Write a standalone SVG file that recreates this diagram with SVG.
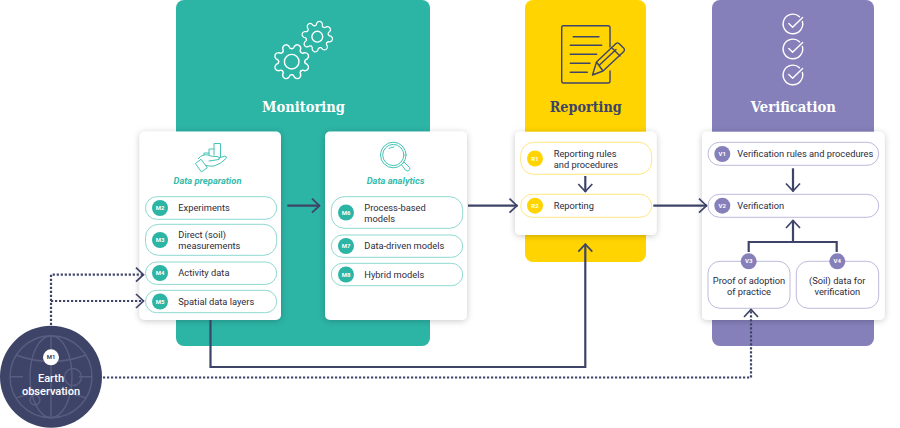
<svg xmlns="http://www.w3.org/2000/svg" xmlns:xlink="http://www.w3.org/1999/xlink" width="900" height="428" viewBox="0 0 900 428">
<style>
text{font-family:Roboto,"Liberation Sans",sans-serif;font-size:9.3px;fill:#2c2c3c}
.t{font-family:"DejaVu Serif","Liberation Serif",serif;font-size:14.6px;font-weight:700;text-anchor:middle}
.sub{font-size:9.4px;font-weight:700;font-style:italic;fill:#36bbab;text-anchor:middle}
.n{font-size:6px;font-weight:700;fill:#fff;text-anchor:middle}
.c{text-anchor:middle}
.card{fill:#fff;filter:url(#sh)}
.pt{fill:#fff;stroke:#8ed9d0;stroke-width:1}
.py{fill:#fff;stroke:#ffe680;stroke-width:1}
.pv{fill:#fff;stroke:#bdb9dc;stroke-width:1}
.dt{fill:#2cb4a5}.dy{fill:#ffd400}.dv{fill:#8580ba}
.w{fill:none;stroke:#fff;stroke-width:1.4;stroke-linecap:round;stroke-linejoin:round}
.k{fill:none;stroke:#3e4468;stroke-width:1.4;stroke-linecap:round;stroke-linejoin:round}
.i{fill:none;stroke:#45c3b4;stroke-width:1;stroke-linecap:round;stroke-linejoin:round}
.g{fill:none;stroke:#585e80;stroke-width:1.4}
.l{fill:none;stroke:#3e4468;stroke-width:2.2}
.a{marker-end:url(#ar)}
.d{stroke-dasharray:2.2 1.8}
</style>
<defs>
<filter id="sh" x="-15%" y="-15%" width="130%" height="130%"><feDropShadow dx="0" dy="1" stdDeviation="3" flood-color="#000" flood-opacity="0.22"/></filter>
<marker id="ar" markerUnits="userSpaceOnUse" markerWidth="16" markerHeight="18" refX="12" refY="9" orient="auto"><path d="M4 2L11.500 9L4 16" fill="none" stroke="#3e4468" stroke-width="1.7"/></marker>
<path id="tooth" d="M12 -5L13.2 -3.6Q14.4 -3.4 15.4 -3.4Q18 -2.4 18 0Q18 2.4 15.4 3.4Q14.4 3.4 13.2 3.6L12 5"/>
<g id="gear">
<use xlink:href="#tooth"/><use xlink:href="#tooth" transform="rotate(45)"/><use xlink:href="#tooth" transform="rotate(90)"/><use xlink:href="#tooth" transform="rotate(135)"/><use xlink:href="#tooth" transform="rotate(180)"/><use xlink:href="#tooth" transform="rotate(225)"/><use xlink:href="#tooth" transform="rotate(270)"/><use xlink:href="#tooth" transform="rotate(315)"/>
</g>
<path id="chk" d="M6.500 -7.300A9.800 9.800 0 1 0 9.400 -2.500M-4.200 -0.600L-0.400 3.200L9.600 -6.600"/>
</defs>

<g id="panel-monitoring">
<rect x="176" y="0" width="254" height="346" rx="8" fill="#2cb4a5"/>
<g class="w"><use xlink:href="#gear" transform="translate(291.7 61.7) rotate(22.5)"/><circle cx="291.7" cy="61.7" r="7.3"/></g>
<g class="w"><use xlink:href="#gear" transform="translate(317.3 36.7) rotate(10) scale(.86)"/><circle cx="317.3" cy="36.7" r="5.4"/></g>
<text class="t" x="303.500" y="111.500" textLength="83" lengthAdjust="spacingAndGlyphs" style="fill:#fff">Monitoring</text>
</g>
<g id="panel-reporting">
<rect x="525" y="0" width="121" height="262" rx="8" fill="#ffd400"/>
<g class="k">
<path d="M610 47V27.500Q610 25.700 608 25.700H563.500Q561.700 25.700 561.700 27.500V81Q561.700 83 563.500 83H608Q610 83 610 81V71"/>
<path d="M573.300 36.700H599M570.300 45.300H601.700M570.300 54.300H596.700M570.300 63.300H590M570.300 72.300H587.300"/>
<path d="M592.500 75L596.500 62L616 43.500Q617.500 42.300 619 43.500L624 48.500Q625 50 623.800 51.500L603 71ZM596.500 62L603 71M611.500 47.500L620 56M599.500 65L616 49.500"/>
</g>
<text class="t" x="585.700" y="111.500" textLength="72" lengthAdjust="spacingAndGlyphs" style="fill:#3e4468">Reporting</text>
</g>
<g id="panel-verification">
<rect x="712" y="0" width="162" height="346" rx="8" fill="#8580ba"/>
<g class="w"><use xlink:href="#chk" transform="translate(793 24)"/><use xlink:href="#chk" transform="translate(793 49)"/><use xlink:href="#chk" transform="translate(793 75)"/></g>
<text class="t" x="793.300" y="111.500" textLength="85" lengthAdjust="spacingAndGlyphs" style="fill:#fff">Verification</text>
</g>

<g id="card-preparation">
<rect class="card" x="139.500" y="131.500" width="141.500" height="188.500" rx="5"/>
<g class="i">
<path d="M204 155V153H209M209 155V149H214M214 155V143.500H220.500V157"/>
<path d="M195.700 163.300L201 159.300L207.300 167.700L201.700 171.700Z"/>
<path d="M198.300 158.500Q203 153.500 208 155Q212 157 217 156.500Q221 157 219 159.500L209 161M219 158L225 156Q227.500 156.500 226 158.500Q221 164 214 166Q210 166.500 206 165.500"/>
</g>
<text class="sub" x="207.500" y="184">Data preparation</text>
<g id="M2"><rect class="pt" x="145.500" y="196.700" width="131.200" height="22.600" rx="11.300"/><circle class="dt" cx="160" cy="208" r="8"/><text class="n" x="160" y="210">M2</text><text x="178.300" y="211.300">Experiments</text></g>
<g id="M3"><rect class="pt" x="145.500" y="224.300" width="131.200" height="31" rx="13"/><circle class="dt" cx="160" cy="240" r="8"/><text class="n" x="160" y="242">M3</text><text x="178.300" y="238">Direct (soil)</text><text x="178.300" y="249">measurements</text></g>
<g id="M4"><rect class="pt" x="145.500" y="262" width="131.200" height="22.400" rx="11.200"/><circle class="dt" cx="160" cy="273" r="8"/><text class="n" x="160" y="275">M4</text><text x="178.300" y="276.300">Activity data</text></g>
<g id="M5"><rect class="pt" x="145.500" y="290.300" width="131.200" height="22.400" rx="11.200"/><circle class="dt" cx="160" cy="301.500" r="8"/><text class="n" x="160" y="303.500">M5</text><text x="178.300" y="304.800">Spatial data layers</text></g>
</g>

<g id="card-analytics">
<rect class="card" x="325" y="131.500" width="142" height="188.500" rx="5"/>
<g class="i">
<circle cx="393.300" cy="155" r="12.800"/><circle cx="393.300" cy="155" r="10.600"/>
<path d="M401.700 164.300L404 162L409.500 167.500Q410.500 169.500 409 170.500Q407.500 171.500 406 170.500ZM389 148.500Q391 147 394 147"/>
</g>
<text class="sub" x="395.500" y="184">Data analytics</text>
<g id="M6"><rect class="pt" x="331.300" y="196.700" width="131.400" height="31.600" rx="13"/><circle class="dt" cx="346" cy="212.500" r="8"/><text class="n" x="346" y="214.500">M6</text><text x="364.300" y="211.300">Process-based</text><text x="364.300" y="222.300">models</text></g>
<g id="M7"><rect class="pt" x="331.300" y="235" width="131.400" height="22.300" rx="11.200"/><circle class="dt" cx="346" cy="246" r="8"/><text class="n" x="346" y="248">M7</text><text x="364.300" y="249.300">Data-driven models</text></g>
<g id="M8"><rect class="pt" x="331.300" y="263.300" width="131.400" height="22.400" rx="11.200"/><circle class="dt" cx="346" cy="274.500" r="8"/><text class="n" x="346" y="276.500">M8</text><text x="364.300" y="277.800">Hybrid models</text></g>
</g>

<g id="card-reporting">
<rect class="card" x="515" y="131.700" width="141.700" height="103.300" rx="5"/>
<g id="R1"><rect class="py" x="520.700" y="142.300" width="131" height="32" rx="13"/><circle class="dy" cx="535" cy="158.500" r="8"/><text class="n" x="535" y="160.500">R1</text><text x="553.700" y="157">Reporting rules</text><text x="553.700" y="168">and procedures</text></g>
<g id="R2"><rect class="py" x="520.700" y="194.300" width="131" height="23" rx="11.500"/><circle class="dy" cx="535" cy="205.700" r="8"/><text class="n" x="535" y="207.700">R2</text><text x="553.700" y="209">Reporting</text></g>
</g>

<g id="card-verification">
<rect class="card" x="702" y="131.700" width="182.700" height="188.300" rx="5"/>
<g id="V1"><rect class="pv" x="708" y="142.300" width="170.700" height="23" rx="11.500"/><circle class="dv" cx="722.300" cy="154" r="8"/><text class="n" x="722.300" y="156">V1</text><text x="737.300" y="157.300">Verification rules and procedures</text></g>
<g id="V2"><rect class="pv" x="708" y="194.300" width="170.700" height="23" rx="11.500"/><circle class="dv" cx="722.300" cy="205.700" r="8"/><text class="n" x="722.300" y="207.700">V2</text><text x="737.300" y="209">Verification</text></g>
<g id="V3"><rect class="pv" x="708" y="261.300" width="82" height="47" rx="12"/><circle class="dv" cx="748.700" cy="261.300" r="8"/><text class="n" x="748.700" y="263.300">V3</text><text class="c" x="749" y="284">Proof of adoption</text><text class="c" x="749" y="295">of practice</text></g>
<g id="V4"><rect class="pv" x="796.300" y="261.300" width="82.400" height="47" rx="12"/><circle class="dv" cx="837.300" cy="261.300" r="8"/><text class="n" x="837.300" y="263.300">V4</text><text class="c" x="837.300" y="284">(Soil) data for</text><text class="c" x="837.300" y="295">verification</text></g>
</g>

<g id="M1">
<circle cx="51" cy="376.700" r="51" fill="#3e4468"/>
<g class="g">
<circle cx="51" cy="376.700" r="41"/>
<ellipse cx="51" cy="376.700" rx="21" ry="41"/>
<path d="M51 335.700V417.700M10 376.700H23M79 376.700H92"/>
<path d="M16 355Q51 368 86 355M16 398Q51 385 86 398"/>
<circle cx="73" cy="377" r="8.500"/><circle cx="35" cy="400" r="5"/>
</g>
<circle cx="51" cy="357.300" r="8" fill="#fff"/>
<text class="n" x="51" y="359.400" style="fill:#3e4468">M1</text>
<text class="c" x="51" y="381.500" style="fill:#fff;font-weight:500;font-size:11px">Earth</text>
<text class="c" x="51" y="394.500" style="fill:#fff;font-weight:500;font-size:11px">observation</text>
</g>

<g id="connectors">
<path class="l a" d="M287.300 205.700H320"/>
<path class="l a" d="M468 205.700H517.500"/>
<path class="l a" d="M585.300 176V192"/>
<path class="l a" d="M653.300 205.700H707"/>
<path class="l a" d="M793 168.300V191.500"/>
<path class="l" d="M748.700 252V242H836.700V252"/>
<path class="l a" d="M793 242V220"/>
<path class="l a" d="M210.500 320V367H585.300V243.700"/>
<path class="l d a" d="M51 325V274.700H144"/>
<path class="l d a" d="M51 301H144"/>
<path class="l d a" d="M103 377.500H751V309"/>
</g>
</svg>
